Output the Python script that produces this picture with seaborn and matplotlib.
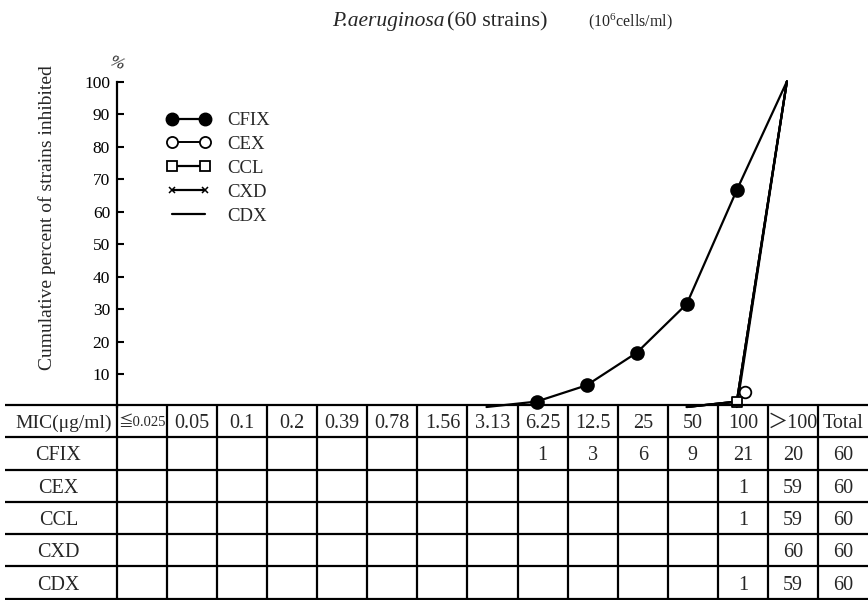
import numpy as np
import pandas as pd
import matplotlib
matplotlib.use("Agg")
import matplotlib.pyplot as plt
import matplotlib.transforms as mtransforms
from matplotlib.lines import Line2D
import seaborn as sns

# MIC dilution steps (µg/ml) and the number of strains inhibited at each step
mic_labels = ["≦0.025", "0.05", "0.1", "0.2", "0.39", "0.78", "1.56",
              "3.13", "6.25", "12.5", "25", "50", "100", "＞100"]
drugs = ["CFIX", "CEX", "CCL", "CXD", "CDX"]
cfix_counts = [0, 0, 0, 0, 0, 0, 0, 0, 1, 3, 6, 9, 21, 20]
cex_counts = [0, 0, 0, 0, 0, 0, 0, 0, 0, 0, 0, 0, 1, 59]
ccl_counts = [0, 0, 0, 0, 0, 0, 0, 0, 0, 0, 0, 0, 1, 59]
cxd_counts = [0, 0, 0, 0, 0, 0, 0, 0, 0, 0, 0, 0, 0, 60]
cdx_counts = [0, 0, 0, 0, 0, 0, 0, 0, 0, 0, 0, 0, 1, 59]
totals = [60, 60, 60, 60, 60]
y_ticks = [10, 20, 30, 40, 50, 60, 70, 80, 90, 100]

counts = {"CFIX": cfix_counts, "CEX": cex_counts, "CCL": ccl_counts,
          "CXD": cxd_counts, "CDX": cdx_counts}

sns.set_style("ticks")
SERIF = ["Liberation Serif", "DejaVu Sans"]
plt.rcParams["font.family"] = SERIF
plt.rcParams["mathtext.fontset"] = "custom"
plt.rcParams["mathtext.rm"] = "Liberation Serif"
plt.rcParams["mathtext.it"] = "Liberation Serif:italic"

W, H = 868, 600
fig = plt.figure(figsize=(W / 100, H / 100), dpi=100)


def fx(px):
    return px / W


def fy(py):
    return 1 - py / H


# ---- curve panel -------------------------------------------------------
left_px, right_px, top_px, bottom_px = 117, 868, 81.5, 407
ax = fig.add_axes([fx(left_px), fy(bottom_px), fx(right_px - left_px),
                   (bottom_px - top_px) / H])
n_cols = len(mic_labels) + 1          # MIC columns plus the Total column
ax.set_xlim(-0.5, n_cols - 0.5)
ax.set_ylim(0, 100)
ppu = (right_px - left_px) / n_cols   # pixels per column

styles = {
    "CFIX": dict(marker="o", s=85, facecolor="black", edgecolor="black"),
    "CEX": dict(marker="o", s=70, facecolor="white", edgecolor="black"),
    "CCL": dict(marker="s", s=55, facecolor="white", edgecolor="black"),
    "CXD": dict(marker="x", s=35, facecolor="black", edgecolor="black"),
    "CDX": None,
}
# small display nudges (in points) so overlapping markers stay visible
nudges = {"CEX": (6, 7), "CCL": (0, 0), "CFIX": (0, 0), "CXD": (0, 0)}
POINT_SHIFT = -0.12

for drug in drugs:
    c = np.array(counts[drug], dtype=float)
    cum = np.cumsum(c) / c.sum() * 100
    first = int(np.argmax(c > 0))
    start = max(first - 1, 0)
    idx = np.arange(start, len(c))
    df = pd.DataFrame({"x": idx + POINT_SHIFT, "y": cum[start:]})
    sns.lineplot(data=df, x="x", y="y", ax=ax, color="black", lw=1.6,
                 sort=False, estimator=None, clip_on=False, zorder=3)
    st = styles[drug]
    if st is not None:
        mid = df[(df["y"] > 0) & (df["y"] < 100)]
        if len(mid):
            dx, dy = nudges.get(drug, (0, 0))
            off = mtransforms.offset_copy(ax.transData, fig=fig, x=dx, y=dy,
                                          units="points")
            sns.scatterplot(data=mid, x="x", y="y", ax=ax, marker=st["marker"],
                            s=st["s"], facecolor=st["facecolor"],
                            edgecolor=st["edgecolor"], linewidth=1.3,
                            color="black", clip_on=False, zorder=5,
                            transform=off)

for side in ("top", "right", "bottom"):
    ax.spines[side].set_visible(False)
ax.spines["left"].set_linewidth(1.6)
ax.spines["left"].set_color("black")
ax.set_yticks(y_ticks)
ax.set_yticklabels([str(t) for t in y_ticks])
ax.tick_params(axis="y", direction="in", length=5, width=1.5, labelsize=12.5,
               pad=5, colors="black")
ax.set_xticks([])
ax.set_xlabel("")
ax.set_ylabel("")

fig.text(fx(47), fy(218), "Cumulative percent of strains inhibited",
         rotation=90, ha="center", va="center", fontsize=14)
fig.text(fx(117), fy(64), "%", ha="center", va="center", fontsize=12.5,
         style="italic", rotation=-20)

# legend
handles = [
    Line2D([], [], color="black", lw=1.6, marker="o", ms=9, mfc="black", mec="black"),
    Line2D([], [], color="black", lw=1.4, marker="o", ms=8, mfc="white", mec="black", mew=1.3),
    Line2D([], [], color="black", lw=1.6, marker="s", ms=7, mfc="white", mec="black", mew=1.3),
    Line2D([], [], color="black", lw=1.6, marker="x", ms=5, mec="black", mew=1.1),
    Line2D([], [], color="black", lw=1.6),
]
ax.legend(handles, drugs, loc="upper left", bbox_to_anchor=(fx(166), fy(112)),
          bbox_transform=fig.transFigure, frameon=False, numpoints=2,
          handlelength=2.36, handletextpad=0.9, labelspacing=0.36,
          fontsize=13.5, borderaxespad=0, borderpad=0)

# title
fig.text(fx(332), fy(26), "P.aeruginosa", style="italic", fontsize=15.5,
         va="baseline", ha="left")
fig.text(fx(447), fy(26), "(60 strains)", fontsize=16, va="baseline",
         ha="left")
fig.text(fx(588), fy(26), r"($\mathregular{10^6}$cells/ml)", fontsize=11.5,
         va="baseline", ha="left")

# ---- MIC distribution table -------------------------------------------
tab_top, tab_bot = 405, 600
tab = fig.add_axes([0, fy(tab_bot), 1, (tab_bot - tab_top) / H])
x_left = -0.5 - left_px / ppu
tab.set_xlim(x_left, n_cols - 0.5)
n_rows = len(drugs) + 1
tab.set_ylim(n_rows + 0.04, 0)
tab.axis("off")

line_kw = dict(color="black", lw=1.6, clip_on=False, solid_capstyle="butt")
for r in range(n_rows + 1):
    tab.plot([x_left + 5 / ppu, n_cols - 0.5], [r, r], **line_kw)
for k in range(n_cols):
    tab.plot([k - 0.5, k - 0.5], [0, n_rows], **line_kw)

FS = 14.5
label_x = (x_left - 0.5) / 2
tab.text(label_x + 0.1, 0.5, "MIC(μg/ml)", ha="center", va="center_baseline",
         fontsize=14)
for j, lab in enumerate(mic_labels):
    fs = 10.5 if lab.startswith("≦") else FS
    fam = ["Liberation Serif", "Noto Sans CJK JP", "DejaVu Sans"]
    tab.text(j, 0.5, lab, ha="center", va="center_baseline", fontsize=fs,
             family=fam)
tab.text(len(mic_labels), 0.5, "Total", ha="center", va="center_baseline",
         fontsize=FS)

for i, drug in enumerate(drugs):
    row = i + 1.5
    tab.text(label_x, row, drug, ha="center", va="center_baseline", fontsize=FS)
    for j, v in enumerate(counts[drug]):
        if v:
            tab.text(j, row, str(v), ha="center", va="center_baseline",
                     fontsize=FS)
    tab.text(len(mic_labels), row, str(totals[i]), ha="center",
             va="center_baseline", fontsize=FS)

fig.savefig("out.png", dpi=100, facecolor="white")
